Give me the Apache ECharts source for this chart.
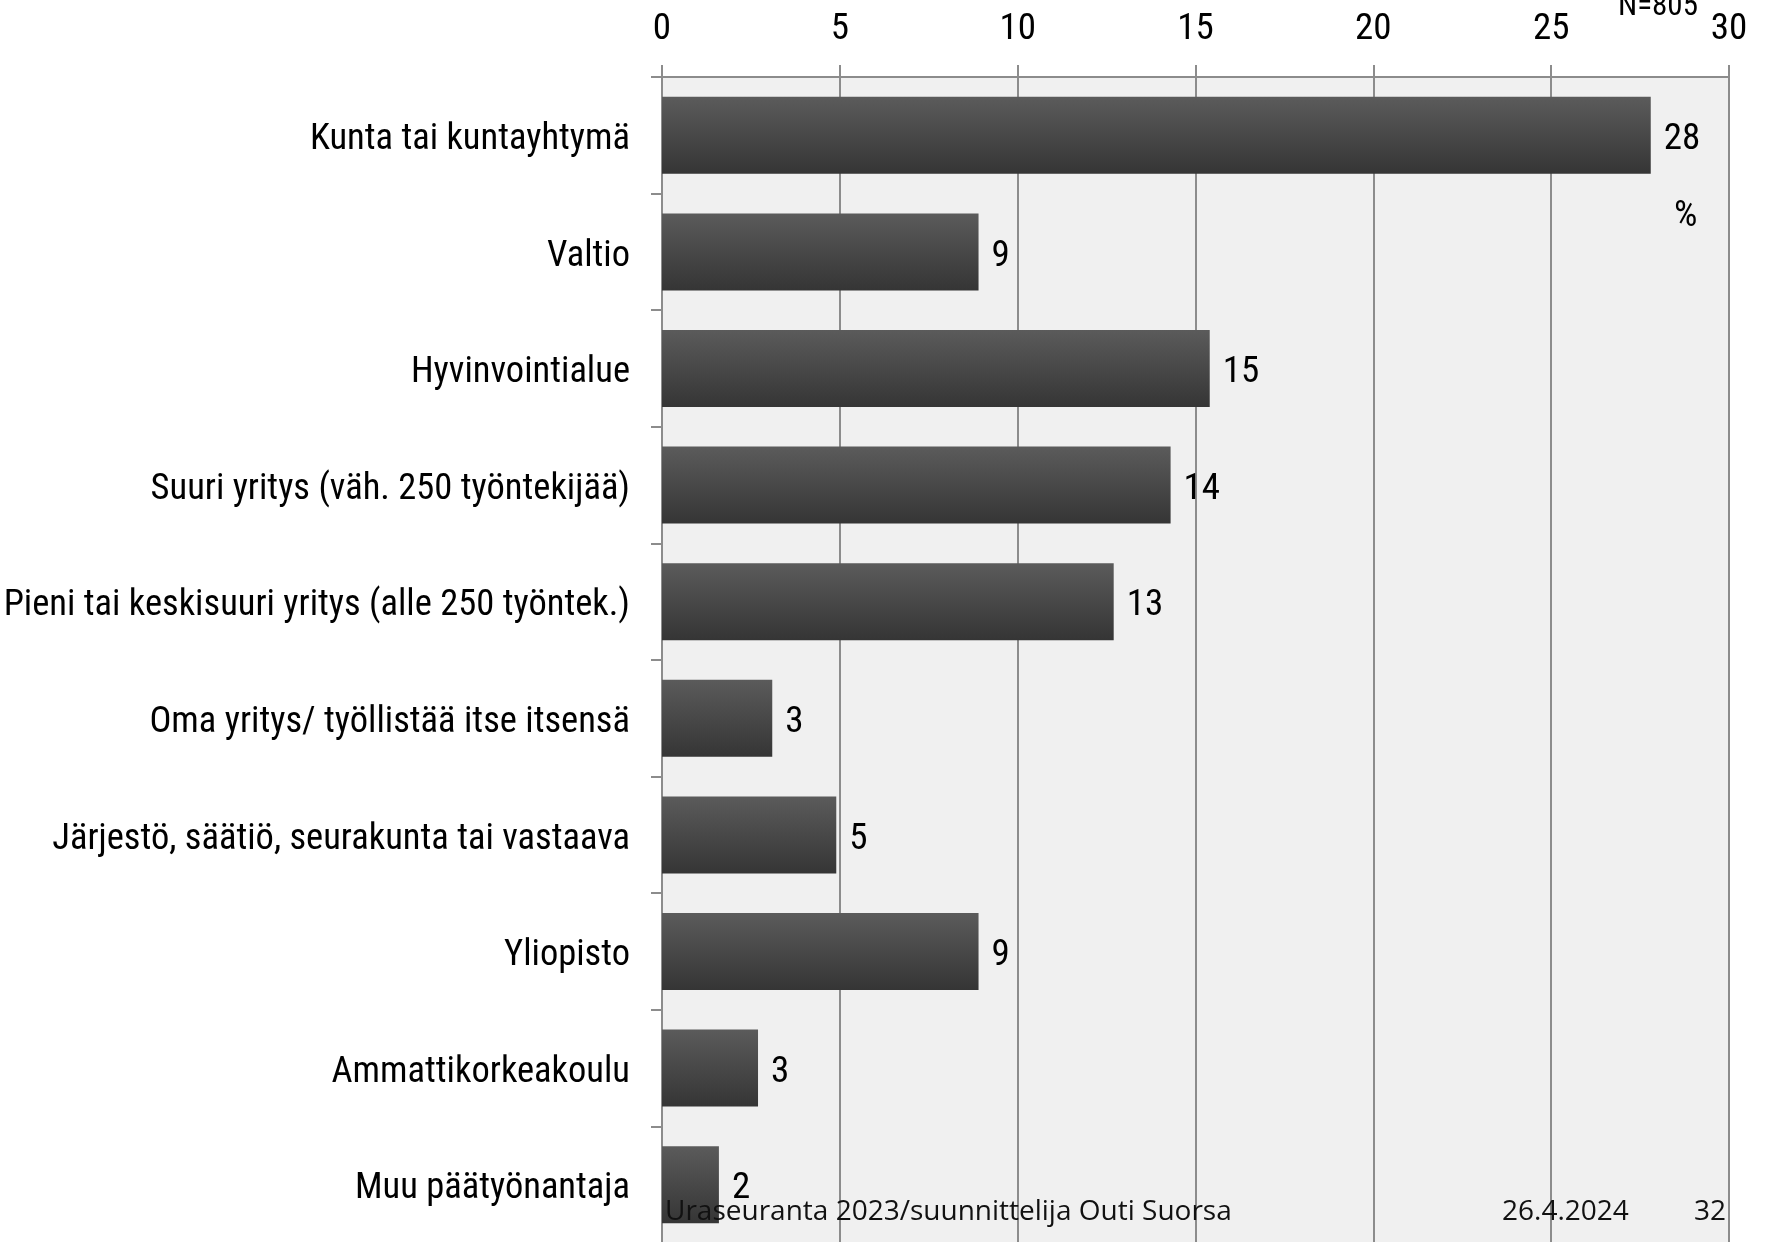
<!DOCTYPE html>
<html>
<head>
<meta charset="utf-8">
<title>Päätyönantaja</title>
<script src="https://cdn.jsdelivr.net/npm/echarts@6/dist/echarts.min.js"></script>
<style>
  html, body { margin: 0; padding: 0; background: #fff; }
  #mChart { width: 1765px; height: 1242px; }
</style>
</head>
<body>
<div id="mChart"></div>
<script>
  // työnantajasektorit, ylhäältä alas
  var categories = [
    'Kunta tai kuntayhtymä',
    'Valtio',
    'Hyvinvointialue',
    'Suuri yritys (väh. 250 työntekijää)',
    'Pieni tai keskisuuri yritys (alle 250 työntek.)',
    'Oma yritys/ työllistää itse itsensä',
    'Järjestö, säätiö, seurakunta tai vastaava',
    'Yliopisto',
    'Ammattikorkeakoulu',
    'Muu päätyönantaja'
  ];
  var values = [27.8, 8.9, 15.4, 14.3, 12.7, 3.1, 4.9, 8.9, 2.7, 1.6];
  var axisTicks = [0, 5, 10, 15, 20, 25, 30];
  var footerLeft = 'Uraseuranta 2023/suunnittelija Outi Suorsa';
  var footerDate = '26.4.2024';
  var pageNo = '32';
  var nText = 'N=805';

  var narrow = '"Roboto Condensed", "Liberation Sans Narrow", sans-serif';
  var gray = '#8c8c8c';

  var myChart = echarts.init(document.getElementById('mChart'));
  myChart.setOption({
    animation: false,
    grid: {
      left: 662, right: 36, top: 77, height: 1166,
      show: true, backgroundColor: '#f0f0f0', borderWidth: 0,
      outerBoundsMode: 'none',
      containLabel: false
    },
    xAxis: {
      type: 'value',
      position: 'top',
      min: axisTicks[0],
      max: axisTicks[axisTicks.length - 1],
      interval: 5,
      axisLine: { show: true, lineStyle: { color: gray, width: 2 } },
      axisTick: { show: true, length: 12, lineStyle: { color: gray, width: 2 } },
      axisLabel: { margin: 29, color: '#000', fontFamily: narrow, fontSize: 37 },
      splitLine: { show: true, lineStyle: { color: gray, width: 2 } }
    },
    yAxis: {
      type: 'category',
      inverse: true,
      data: categories,
      axisLine: { show: true, lineStyle: { color: gray, width: 2 } },
      axisTick: { show: true, length: 11, lineStyle: { color: gray, width: 2 } },
      // teksti hieman palkin keskikohdan alapuolelle
      axisLabel: { margin: 32, color: '#000', fontFamily: narrow, fontSize: 36.5, verticalAlign: 'top', lineHeight: 9 }
    },
    series: [{
      type: 'bar',
      data: values,
      barCategoryGap: '34%',
      itemStyle: {
        color: new echarts.graphic.LinearGradient(0, 0, 0, 1, [
          { offset: 0, color: '#5b5b5b' },
          { offset: 1, color: '#353535' }
        ])
      },
      label: {
        show: true,
        position: 'right',
        distance: 13,
        color: '#000',
        fontFamily: narrow,
        fontSize: 37,
        verticalAlign: 'top',
        lineHeight: 9,
        formatter: function (p) { return Math.round(p.value); }
      }
    }],
    graphic: [
      { type: 'text', left: 1618, top: -8, z: 100,
        style: { text: nText, font: '31px ' + narrow, fill: '#000' } },
      { type: 'text', left: 1674, top: 198, z: 100,
        style: { text: '%', font: '37px ' + narrow, fill: '#000' } },
      { type: 'text', left: 665, top: 1198, z: 100,
        style: { text: footerLeft, font: '28px "Open Sans", sans-serif', fill: '#111' } },
      { type: 'text', left: 1502, top: 1198, z: 100,
        style: { text: footerDate, font: '28px "Open Sans", sans-serif', fill: '#111' } },
      { type: 'text', left: 1694, top: 1198, z: 100,
        style: { text: pageNo, font: '28px "Open Sans", sans-serif', fill: '#111' } }
    ]
  });
</script>
</body>
</html>
